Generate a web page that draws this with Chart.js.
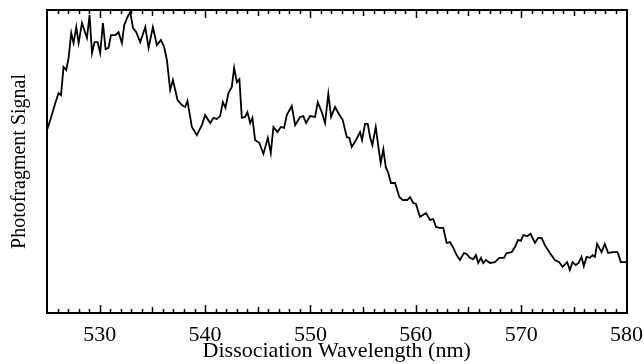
<!DOCTYPE html>
<html><head><meta charset="utf-8">
<script src="https://cdn.jsdelivr.net/npm/chart.js@4/dist/chart.umd.min.js"></script>
<style>html,body{margin:0;padding:0;background:#fff}#wrap{width:644px;height:364px}</style>
</head><body><div id="wrap"><canvas id="c" width="644" height="364"></canvas></div>
<script>
const wavelength = [525.00,525.31,525.79,526.10,526.33,526.57,526.83,527.05,527.30,527.52,527.78,528.00,528.32,528.63,528.79,529.04,529.27,529.51,529.80,530.05,530.31,530.56,530.84,531.07,531.48,531.79,532.11,532.33,532.64,532.90,533.16,533.47,533.85,534.33,534.64,535.05,535.43,535.81,536.12,536.38,536.69,536.95,537.39,537.80,538.12,538.33,538.75,539.22,539.70,540.01,540.49,540.80,541.12,541.43,541.69,541.94,542.22,542.54,542.76,543.02,543.26,543.49,543.80,544.02,544.28,544.50,544.75,545.16,545.54,545.96,546.24,546.49,546.87,547.19,547.50,547.76,548.23,548.55,549.02,549.33,549.59,549.97,550.44,550.70,551.08,551.39,551.70,551.96,552.34,552.65,553.07,553.45,553.70,553.92,554.33,554.71,554.90,555.19,555.44,555.66,555.88,556.20,556.45,556.67,556.92,557.15,557.39,557.65,558.03,558.44,558.76,559.20,559.45,559.77,560.02,560.40,560.97,561.35,561.66,561.92,562.23,562.61,562.93,563.25,563.56,563.88,564.19,564.57,564.83,565.14,565.46,565.71,565.93,566.19,566.40,566.66,567.04,567.51,567.92,568.37,568.62,569.10,569.41,569.72,569.98,570.20,570.58,570.90,571.31,571.62,571.94,572.25,572.73,573.20,573.61,573.93,574.37,574.62,574.88,575.19,575.45,575.73,575.95,576.21,576.52,576.78,577.00,577.21,577.63,577.94,578.26,578.73,579.15,579.46,579.94,580.00];
const signal = [60.4,63.7,69.3,72.6,71.9,81.2,80.2,84.2,92.4,89.1,94.4,89.1,95.7,92.4,90.8,98.3,85.8,89.4,89.4,85.8,95.7,87.1,87.5,91.7,91.7,92.7,89.1,95.0,97.7,99.3,94.1,92.7,89.4,94.4,87.5,94.4,88.4,90.1,87.8,83.5,73.6,76.9,70.3,68.6,68.0,70.0,61.4,58.7,62.0,65.3,62.7,64.4,64.0,65.0,69.6,67.7,72.6,74.6,80.9,76.2,77.2,64.4,64.7,66.3,62.7,64.4,57.1,56.1,52.5,57.8,52.8,61.4,59.7,61.4,61.1,65.3,68.3,62.0,64.7,65.0,62.7,65.0,64.7,69.6,66.3,62.7,72.3,64.7,68.0,66.0,63.7,58.1,57.8,54.8,57.1,59.7,57.1,62.4,62.4,58.1,55.4,61.4,54.8,49.5,54.1,48.2,46.2,42.9,42.9,38.3,37.3,37.3,38.3,36.3,36.0,31.7,33.0,30.7,31.0,28.4,28.1,28.1,23.1,23.4,21.5,19.1,17.5,19.8,19.5,18.2,17.8,19.1,16.5,18.2,16.5,17.5,16.5,16.8,18.2,18.2,19.8,20.1,21.8,24.1,23.8,25.7,25.4,26.1,23.1,24.8,24.8,22.4,19.8,17.5,16.8,15.2,16.8,14.2,16.8,15.8,16.5,18.5,15.5,18.5,18.2,19.1,18.5,22.8,20.1,22.8,19.8,20.1,20.1,16.8,16.8,16.8];
const xTickLabels = [530, 540, 550, 560, 570, 580];
const xMin = 525, xMax = 580;

const FONT = "'Liberation Serif', 'Times New Roman', serif";

const innerTicks = {
  id: 'innerTicks',
  afterDraw(chart) {
    const xs = chart.scales.x;
    const area = chart.chartArea;
    const ctx = chart.ctx;
    ctx.save();
    ctx.strokeStyle = '#000';
    ctx.lineWidth = 1.5;
    xs.ticks.forEach(t => {
      const v = t.value;
      if (v <= xMin || v >= xMax) return;
      const px = Math.round(xs.getPixelForValue(v)) + 0.5;
      const len = (v % 10 === 0) ? 8 : (v % 5 === 0 ? 6 : 4);
      ctx.beginPath();
      ctx.moveTo(px, area.bottom);
      ctx.lineTo(px, area.bottom - len);
      ctx.moveTo(px, area.top);
      ctx.lineTo(px, area.top + len);
      ctx.stroke();
    });
    ctx.restore();
  }
};

new Chart(document.getElementById('c'), {
  type: 'line',
  data: {
    datasets: [{
      data: wavelength.map((w, i) => ({ x: w, y: signal[i] })),
      borderColor: '#000',
      borderWidth: 1.8,
      pointRadius: 0,
      tension: 0,
      fill: false
    }]
  },
  options: {
    responsive: false,
    animation: false,
    devicePixelRatio: 1,
    layout: { padding: 0 },
    plugins: { legend: { display: false }, tooltip: { enabled: false } },
    scales: {
      x: {
        type: 'linear', position: 'bottom', min: xMin, max: xMax,
        afterFit(s) { s.height = 51; },
        grid: { display: false },
        border: { display: true, color: '#000', width: 2 },
        ticks: {
          stepSize: 1, autoSkip: false, maxRotation: 0, maxTicksLimit: 200,
          padding: 1, color: '#000', font: { family: FONT, size: 22 },
          callback: v => xTickLabels.includes(v) ? String(v) : ''
        },
        title: { display: true, text: 'Dissociation Wavelength (nm)', color: '#000',
                 font: { family: FONT, size: 22 }, padding: { top: 0, bottom: 0 } }
      },
      x2: {
        type: 'linear', position: 'top', min: xMin, max: xMax,
        afterFit(s) { s.height = 10; },
        grid: { display: false },
        border: { display: true, color: '#000', width: 2 },
        ticks: { display: false }
      },
      y: {
        type: 'linear', position: 'left', min: 0, max: 100,
        afterFit(s) { s.width = 47; },
        grid: { display: false },
        border: { display: true, color: '#000', width: 2 },
        ticks: { display: false },
        title: { display: true, text: 'Photofragment Signal', color: '#000',
                 font: { family: FONT, size: 20 }, padding: { top: 8, bottom: 0 } }
      },
      y2: {
        type: 'linear', position: 'right', min: 0, max: 100,
        afterFit(s) { s.width = 17; },
        grid: { display: false },
        border: { display: true, color: '#000', width: 2 },
        ticks: { display: false }
      }
    }
  },
  plugins: [innerTicks]
});
</script>
</body></html>
